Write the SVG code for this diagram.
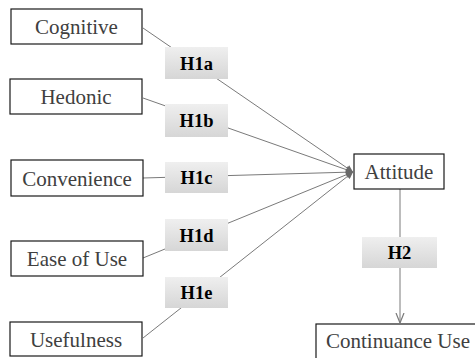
<svg xmlns="http://www.w3.org/2000/svg" width="475" height="358" viewBox="0 0 475 358">
<style>
.node{fill:#fff;stroke:#1a1a1a;stroke-width:1.2}
.nt{font-family:'Liberation Serif','Times New Roman',Times,serif;font-size:21px;fill:#404040;text-anchor:middle}
.lab{fill:url(#g)}
.lt{font-family:'Liberation Serif','Times New Roman',Times,serif;font-size:18.5px;font-weight:bold;fill:#000;text-anchor:middle}
.c{stroke:#7a7a7a;stroke-width:1;fill:none}
</style>
<defs>
<linearGradient id="g" x1="0" y1="0" x2="0" y2="1">
<stop offset="0" stop-color="#efefef"/>
<stop offset="1" stop-color="#d6d6d6"/>
</linearGradient>
<marker id="a" viewBox="0 0 10 10" refX="10" refY="5" markerWidth="9" markerHeight="7" orient="auto" markerUnits="userSpaceOnUse">
<path d="M0,0 L10,5 L0,10 z" fill="#6a6a6a"/>
</marker>
<marker id="v" viewBox="0 0 10 10" refX="10" refY="5" markerWidth="10" markerHeight="10" orient="auto" markerUnits="userSpaceOnUse">
<path d="M0,1 L10,5 L0,9" fill="none" stroke="#7a7a7a" stroke-width="1.2"/>
</marker>
</defs>
<g id="connectors">
<line class="c" x1="143" y1="28" x2="353" y2="172" marker-end="url(#a)"/>
<line class="c" x1="143" y1="98" x2="353" y2="172" marker-end="url(#a)"/>
<line class="c" x1="143" y1="178" x2="353" y2="172" marker-end="url(#a)"/>
<line class="c" x1="143" y1="258" x2="353" y2="172" marker-end="url(#a)"/>
<line class="c" x1="143" y1="338" x2="353" y2="172" marker-end="url(#a)"/>
<line class="c" x1="400" y1="189" x2="400" y2="323" marker-end="url(#v)"/>
</g>
<g id="cognitive"><rect class="node" x="11" y="9" width="131" height="35"/><text class="nt" x="76.5" y="34">Cognitive</text></g>
<g id="hedonic"><rect class="node" x="10" y="79" width="132" height="35"/><text class="nt" x="76" y="104">Hedonic</text></g>
<g id="convenience"><rect class="node" x="11" y="160" width="132" height="36"/><text class="nt" x="77" y="185.5">Convenience</text></g>
<g id="easeofuse"><rect class="node" x="11" y="241" width="132" height="35"/><text class="nt" x="77" y="266">Ease of Use</text></g>
<g id="usefulness"><rect class="node" x="10" y="322" width="132" height="34"/><text class="nt" x="76" y="346.5">Usefulness</text></g>
<g id="attitude"><rect class="node" x="354" y="154" width="90" height="35"/><text class="nt" x="399" y="179">Attitude</text></g>
<g id="continuance"><rect class="node" x="316" y="324" width="170" height="40"/><text class="nt" x="398" y="348">Continuance Use</text></g>
<g id="h1a"><rect class="lab" x="165" y="47" width="63" height="32"/><text class="lt" x="196.5" y="69.5">H1a</text></g>
<g id="h1b"><rect class="lab" x="165" y="104" width="63" height="33"/><text class="lt" x="196.5" y="127">H1b</text></g>
<g id="h1c"><rect class="lab" x="165" y="162" width="63" height="31"/><text class="lt" x="196.5" y="184">H1c</text></g>
<g id="h1d"><rect class="lab" x="165" y="219" width="63" height="32"/><text class="lt" x="196.5" y="241.5">H1d</text></g>
<g id="h1e"><rect class="lab" x="165" y="277" width="63" height="31"/><text class="lt" x="196.5" y="299">H1e</text></g>
<g id="h2"><rect class="lab" x="362" y="237" width="75" height="31"/><text class="lt" x="399.5" y="259">H2</text></g>
</svg>
